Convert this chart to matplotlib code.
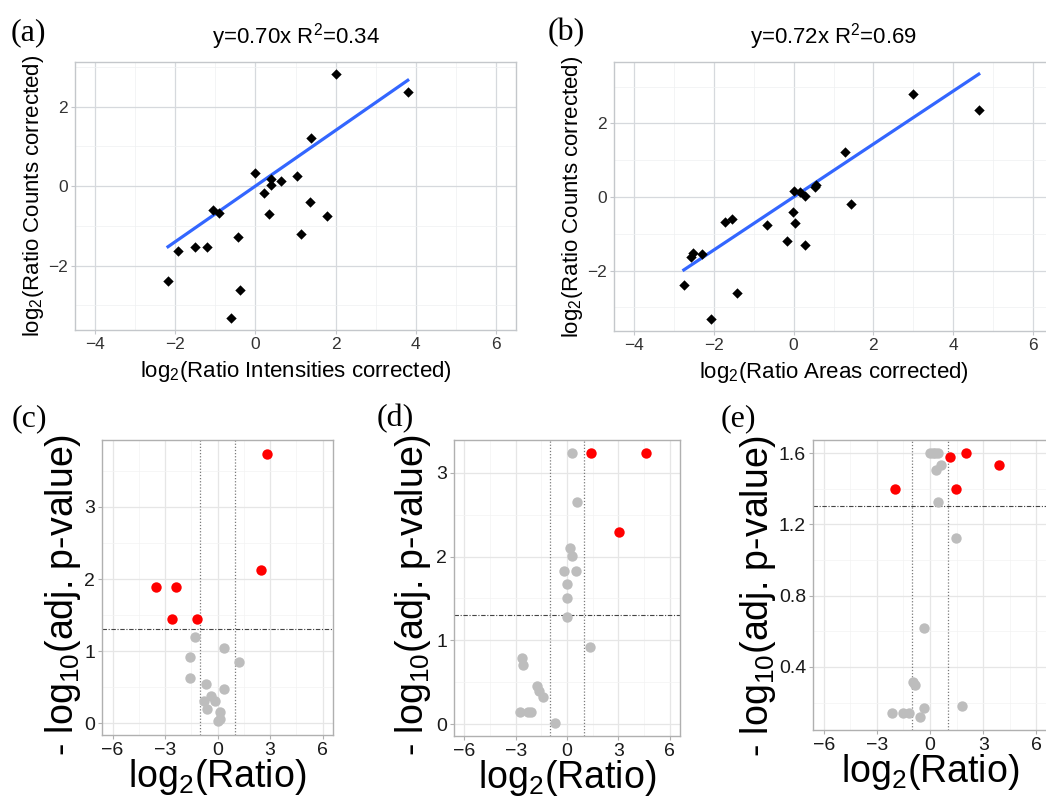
import numpy as np
import matplotlib
matplotlib.use("Agg")
import matplotlib.pyplot as plt
from matplotlib.ticker import MultipleLocator

plt.rcParams["font.family"] = ["Liberation Sans", "DejaVu Sans"]
plt.rcParams["mathtext.default"] = "regular"

W, H = 1046, 797

# log2 ratios of the 22 proteins (counts vs intensities / areas)
counts_log2 = [2.81, 2.37, 1.22, 0.33, 0.26, 0.17, 0.13, 0.02, -0.18, -0.40, -0.60,
               -0.67, -0.71, -0.76, -1.20, -1.29, -1.53, -1.54, -1.64, -2.40, -2.61, -3.31]
intensities_log2 = [2.01, 3.80, 1.38, 0.00, 1.04, 0.38, 0.63, 0.40, 0.22, 1.36, -1.06,
                    -0.90, 0.35, 1.78, 1.14, -0.44, -1.20, -1.50, -1.94, -2.18, -0.38, -0.60]
areas_log2 = [2.98, 4.64, 1.28, 0.55, 0.53, 0.02, 0.17, 0.29, 1.43, -0.01, -1.55,
              -1.71, 0.04, -0.67, -0.17, 0.29, -2.51, -2.29, -2.57, -2.75, -1.42, -2.07]

slope_a, r2_a = 0.70, 0.34
slope_b, r2_b = 0.72, 0.69

# volcano data: log2(ratio), -log10(adj. p)
volc_c_x = [2.84, 2.48, -3.49, -2.38, -2.59, -1.17, -1.29, 0.35, 1.25, -1.59, -1.59,
            -0.65, 0.35, -0.36, -0.75, -0.17, -0.58, 0.15, 0.12, 0.02]
volc_c_y = [3.74, 2.13, 1.89, 1.89, 1.45, 1.45, 1.20, 1.04, 0.85, 0.92, 0.63,
            0.54, 0.47, 0.38, 0.30, 0.30, 0.19, 0.16, 0.05, 0.03]

volc_d_x = [1.42, 4.63, 3.01, 0.30, 0.61, 0.20, 0.30, -0.20, 0.51, -0.02, -0.02,
            -0.02, 1.32, -2.64, -2.56, -1.75, -1.63, -1.42, -2.76, -2.26, -2.13, -0.69]
volc_d_y = [3.23, 3.23, 2.29, 3.23, 2.65, 2.10, 2.01, 1.83, 1.83, 1.67, 1.50,
            1.28, 0.92, 0.79, 0.71, 0.46, 0.40, 0.33, 0.15, 0.15, 0.15, 0.02]

volc_e_x = [1.13, 2.04, 3.88, -1.95, 1.46, 0.00, 0.15, 0.30, 0.45, 0.64, 0.34,
            0.43, 1.44, -0.34, -0.98, -0.83, 1.83, -0.34, -2.17, -1.51, -1.17, -0.57]
volc_e_y = [1.58, 1.60, 1.535, 1.40, 1.40, 1.60, 1.60, 1.60, 1.60, 1.535, 1.507,
            1.327, 1.126, 0.62, 0.313, 0.301, 0.18, 0.167, 0.139, 0.139, 0.139, 0.121]

P_CUT = -np.log10(0.05)
FC_CUT = 1.0

fig = plt.figure(figsize=(W / 100, H / 100), dpi=100)


def px_axes(left, top, right, bottom):
    return fig.add_axes([left / W, 1 - bottom / H, (right - left) / W, (bottom - top) / H])


def style_axes(ax, border, major, minor, tick_color, label_size):
    ax.set_facecolor("white")
    for sp in ax.spines.values():
        sp.set_color(border)
        sp.set_linewidth(1.0)
    ax.grid(True, which="major", color=major, lw=0.9, zorder=0)
    ax.grid(True, which="minor", color=minor, lw=0.5, zorder=0)
    ax.set_axisbelow(True)
    ax.tick_params(which="major", length=3, width=0.8, color=border,
                   labelcolor=tick_color, labelsize=label_size, pad=2)
    ax.tick_params(which="minor", length=0)


def scatter_panel(ax, x, y, slope, r2, xlabel):
    x = np.asarray(x)
    style_axes(ax, "#c4c7cb", "#d6d9dd", "#eef0f2", "#333333", 12.5)
    ax.scatter(x, y, marker="D", s=28, color="black", lw=0, zorder=3)
    xs = np.array([x.min(), x.max()])
    ax.plot(xs, slope * xs, color="#3366ff", lw=2.3, zorder=2)
    ax.set_xlim(-4.5, 6.5)
    ax.xaxis.set_major_locator(MultipleLocator(2))
    ax.xaxis.set_minor_locator(MultipleLocator(1))
    ax.yaxis.set_major_locator(MultipleLocator(2))
    ax.yaxis.set_minor_locator(MultipleLocator(1))
    ax.set_title(f"y={slope:.2f}x R$^2$={r2:.2f}", fontsize=16, pad=13)
    ax.set_xlabel(xlabel, fontsize=16, labelpad=5)
    ax.set_ylabel("log$_2$(Ratio Counts corrected)", fontsize=16, labelpad=2)


def volcano_panel(ax, x, y, ylim, ystep, yfmt, ylab_pos):
    x = np.asarray(x)
    y = np.asarray(y)
    style_axes(ax, "#b0b0b0", "#e6e6e6", "#f3f3f3", "#1a1a1a", 14)
    sig = (y > P_CUT) & (np.abs(x) > FC_CUT)
    ax.scatter(x[~sig], y[~sig], s=56, color="#bdbdbd", lw=0, zorder=3)
    ax.scatter(x[sig], y[sig], s=56, color="#ff0000", lw=0, zorder=4)
    for v in (-FC_CUT, FC_CUT):
        ax.axvline(v, color="#7a7a7a", lw=0.9, ls=(0, (1, 1.5)), zorder=2)
    ax.axhline(P_CUT, color="#444444", lw=0.8, ls=(0, (4, 1.5, 1, 1.5)), zorder=2)
    ax.set_xlim(-6.6, 6.6)
    ax.set_ylim(*ylim)
    ax.xaxis.set_major_locator(MultipleLocator(3))
    ax.xaxis.set_minor_locator(MultipleLocator(1.5))
    ax.yaxis.set_major_locator(MultipleLocator(ystep))
    ax.yaxis.set_minor_locator(MultipleLocator(ystep / 2))
    ax.yaxis.set_major_formatter(yfmt)
    ax.set_xlabel("log$_2$(Ratio)", fontsize=27, labelpad=-1.5)
    ax.set_ylabel("- log$_{10}$(adj. p-value)", fontsize=27)
    ax.yaxis.set_label_coords(*ylab_pos)


ax_a = px_axes(75, 62, 516, 330)
scatter_panel(ax_a, intensities_log2, counts_log2, slope_a, r2_a,
              "log$_2$(Ratio Intensities corrected)")
ax_a.set_ylim(-3.62, 3.12)

ax_b = px_axes(614, 62, 1053, 331)
scatter_panel(ax_b, areas_log2, counts_log2, slope_b, r2_b,
              "log$_2$(Ratio Areas corrected)")
ax_b.set_ylim(-3.64, 3.67)

ax_c = px_axes(102, 440, 333, 735)
volcano_panel(ax_c, volc_c_x, volc_c_y, (-0.166, 3.93), 1, "{x:.0f}", (-0.082, 0.475))

ax_d = px_axes(454, 440, 680, 736)
volcano_panel(ax_d, volc_d_x, volc_d_y, (-0.14, 3.39), 1, "{x:.0f}", (-0.093, 0.475))

ax_e = px_axes(813, 440, 1047, 730)
volcano_panel(ax_e, volc_e_x, volc_e_y, (0.046, 1.674), 0.4, "{x:.1f}", (-0.15, 0.462))

# panel letters
serif = ["Liberation Serif", "DejaVu Serif"]
for label, xp, yp in [("(a)", 11, 40), ("(b)", 548, 40), ("(c)", 12, 426),
                      ("(d)", 377, 426), ("(e)", 721, 426)]:
    fig.text(xp / W, 1 - yp / H, label, family=serif, fontsize=23, ha="left", va="baseline")

fig.savefig("out.png", dpi=100)
